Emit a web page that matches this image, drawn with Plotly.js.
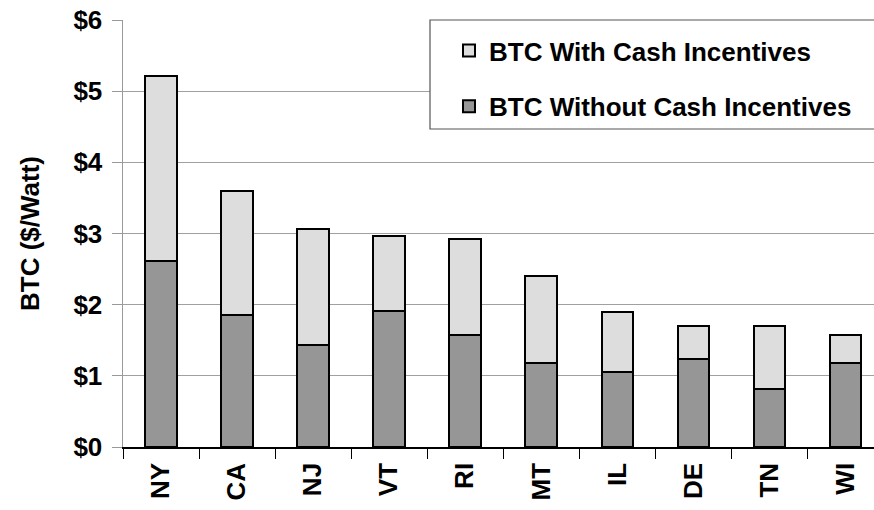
<!DOCTYPE html>
<html><head><meta charset="utf-8">
<script src="https://cdn.plot.ly/plotly-3.0.1.min.js"></script>
<style>html,body{margin:0;padding:0;background:#fff}#chart{width:874px;height:510px}</style>
</head><body><div id="chart"></div>
<script>
const states = ["NY","CA","NJ","VT","RI","MT","IL","DE","TN","WI"];
const btcWithCash = [5.22,3.60,3.07,2.97,2.92,2.40,1.90,1.70,1.70,1.58];
const btcWithoutCash = [2.62,1.85,1.43,1.91,1.58,1.18,1.05,1.24,0.81,1.18];
const yTickVals = [0,1,2,3,4,5,6];
const yTickText = ["$0","$1","$2","$3","$4","$5","$6"];

const incentivePart = btcWithCash.map((v,i)=> +(v - btcWithoutCash[i]).toFixed(2));
const fnt = {family:"Liberation Sans, Arial, sans-serif", size:26, color:"#000", weight:"bold"};

const traces = [
  {type:"bar", name:"BTC Without Cash Incentives", x:states, y:btcWithoutCash, width:0.41,
   marker:{color:"#969696", line:{color:"#000", width:2}}, legendgroup:"a", legendrank:2, hoverinfo:"y"},
  {type:"bar", name:"BTC With Cash Incentives", x:states, y:incentivePart, width:0.41,
   marker:{color:"#dddddd", line:{color:"#000", width:2}}, legendgroup:"b", legendrank:1, hoverinfo:"y"}
];

const layout = {
  width:874, height:510,
  margin:{l:123, r:0, t:20, b:63},
  paper_bgcolor:"#fff", plot_bgcolor:"#fff",
  font:fnt,
  barmode:"stack",
  showlegend:true,
  legend:{x:(449-123)/751, xanchor:"left", y:1-(7/427), yanchor:"top",
    traceorder:"grouped", tracegroupgap:19, bgcolor:"rgba(0,0,0,0)", borderwidth:0,
    font:fnt, itemwidth:30},
  xaxis:{type:"category", range:[-0.5, 9.38], tickson:"boundaries", ticks:"outside", ticklen:10,
    tickcolor:"#000", showline:true, linecolor:"#000", linewidth:1.5, tickangle:-90,
    showgrid:false, tickfont:fnt, ticklabelstandoff:4, fixedrange:true},
  yaxis:{range:[0,6], tickvals:yTickVals, ticktext:yTickText, ticks:"outside", ticklen:10,
    tickcolor:"#999", showline:true, linecolor:"#999", linewidth:1.5,
    showgrid:true, gridcolor:"#a0a0a0", gridwidth:1, zeroline:false,
    tickfont:fnt, ticklabelstandoff:4,
    title:{text:"BTC ($/Watt)", font:fnt, standoff:26}, fixedrange:true},
  shapes:[{type:"rect", xref:"paper", yref:"paper", x0:(430-123)/751, x1:1.05,
    y0:1-(109/427), y1:1, fillcolor:"#fff", line:{color:"#555", width:1.2}, layer:"above"}]
};
Plotly.newPlot("chart", traces, layout, {displayModeBar:false, staticPlot:true});
</script></body></html>
